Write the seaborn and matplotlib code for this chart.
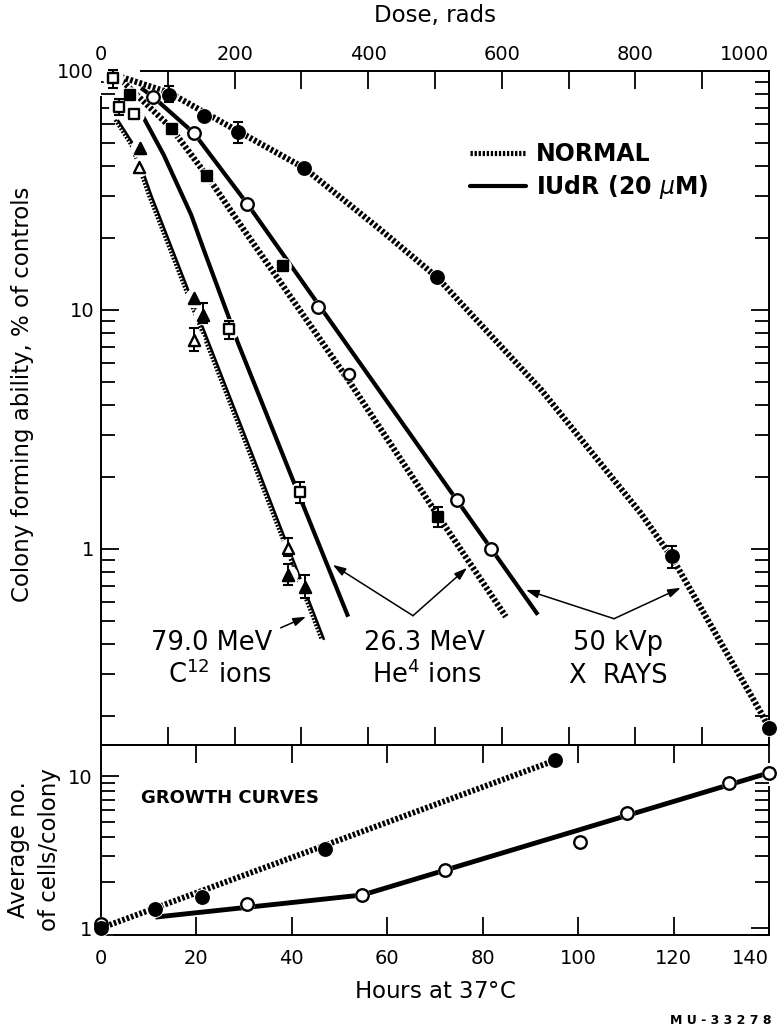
import numpy as np
import matplotlib
matplotlib.use("Agg")
import matplotlib.pyplot as plt
from matplotlib.lines import Line2D
from matplotlib.ticker import LogLocator, NullFormatter
import seaborn as sns

sns.set_style("ticks")
plt.rcParams["font.family"] = ["DejaVu Sans"]
plt.rcParams["mathtext.fontset"] = "dejavusans"
plt.rcParams.update({"text.color": "black", "axes.labelcolor": "black",
                     "xtick.color": "black", "ytick.color": "black",
                     "axes.edgecolor": "black"})

# ---------------- survival (dose in rads, % of controls) ----------------
# 50 kVp X rays
xray_normal_dose = [102, 154, 205, 304, 503, 855, 1000]
xray_normal_surv = [79.4, 64.8, 55.6, 39.3, 13.7, 0.93, 0.178]
xray_normal_fit_dose = [30, 102, 205, 304, 419, 503, 659, 808, 855, 988, 1000]
xray_normal_fit_surv = [94.4, 81.2, 56.0, 39.3, 21.6, 13.7, 4.63, 1.41, 0.917, 0.206, 0.178]

xray_iudr_dose = [78, 139, 219, 325, 533, 584]
xray_iudr_surv = [77.9, 55.0, 27.8, 10.3, 1.60, 1.0]
xray_iudr_fit_dose = [60, 78, 139, 219, 654]
xray_iudr_fit_surv = [84.9, 77.9, 55.0, 27.8, 0.53]

# 26.3 MeV He4 ions
he_normal_dose = [44, 106, 159, 272, 505]
he_normal_surv = [79.4, 57.2, 36.4, 15.3, 1.36]
he_normal_open_dose = [371]
he_normal_open_surv = [5.4]
he_normal_fit_dose = [27, 105, 160, 214, 265, 370, 497, 606]
he_normal_fit_surv = [93.5, 57.8, 36.0, 21.6, 13.5, 5.10, 1.48, 0.52]

he_iudr_dose = [18, 27, 50, 192, 298]
he_iudr_surv = [93.5, 70.7, 66.0, 8.3, 1.73]
he_iudr_fit_dose = [60, 94, 135, 154, 190, 205, 289, 370]
he_iudr_fit_surv = [66.7, 44.5, 25.0, 17.8, 9.53, 7.28, 1.89, 0.52]

# 79.0 MeV C12 ions
c12_normal_dose = [58, 139, 152, 280, 305]
c12_normal_surv = [47.6, 11.2, 9.5, 0.78, 0.69]
c12_iudr_dose = [57, 139, 280]
c12_iudr_surv = [39.7, 7.5, 1.01]
c12_normal_fit_dose = [21, 45, 71, 221, 330]
c12_normal_fit_surv = [62.4, 49.0, 30.3, 2.55, 0.416]
c12_iudr_fit_dose = [25, 49, 75, 225, 334]
c12_iudr_fit_surv = [62.4, 49.0, 30.3, 2.55, 0.416]

# error bars (dose, mean, low, high)
err_dose = [18, 27, 102, 205, 855, 505, 192, 298, 152, 139, 280, 280, 305]
err_mid = [93.5, 70.7, 79.4, 55.6, 0.93, 1.36, 8.3, 1.73, 9.5, 7.5, 1.01, 0.78, 0.69]
err_low = [84.9, 65.5, 74.2, 50.0, 0.833, 1.24, 7.56, 1.56, 8.8, 6.7, 0.93, 0.707, 0.62]
err_high = [101, 76.4, 86.5, 61.2, 1.03, 1.50, 9.0, 1.91, 10.7, 8.4, 1.11, 0.86, 0.78]

# ---------------- growth curves (hours at 37 C, cells per colony) ----------------
growth_normal_hours = [0, 11.4, 21.1, 47, 95.2]
growth_normal_cells = [1.0, 1.33, 1.60, 3.31, 12.7]
growth_normal_fit_hours = [0, 95.2]
growth_normal_fit_cells = [1.0, 12.7]

growth_iudr_hours = [0, 30.7, 54.8, 72.0, 100.4, 110.3, 131.6, 140]
growth_iudr_cells = [1.06, 1.44, 1.65, 2.41, 3.68, 5.71, 9.0, 10.5]
growth_iudr_fit_hours = [11.4, 54.8, 140]
growth_iudr_fit_cells = [1.18, 1.65, 10.5]

dose_ticks = list(range(0, 1001, 200))
hour_ticks = list(range(0, 141, 20))

# ---------------- styles ----------------
DOT = (0, (0.45, 0.33))
FINE_DOT = (0, (0.55, 0.45))
NORMAL_LW = 4.4
IUDR_LW = 3.0
TICK_FS = 14
LABEL_FS = 16.5
NOTE_FS = 18.5


def curve(axis, x, y, ls, lw, z=2):
    sns.lineplot(x=x, y=y, ax=axis, color="black", lw=lw, linestyle=ls,
                 sort=False, estimator=None, zorder=z,
                 solid_capstyle="butt", dash_capstyle="butt")


def points(axis, x, y, marker, size, filled, halo=4.0):
    sns.scatterplot(x=x, y=y, ax=axis, marker="o", s=(size + halo) ** 2,
                    color="white", edgecolor="white", linewidth=0,
                    zorder=4, clip_on=False, legend=False)
    sns.scatterplot(x=x, y=y, ax=axis, marker=marker, s=size ** 2,
                    color="black" if filled else "white", edgecolor="black",
                    linewidth=1.7, zorder=5, clip_on=False, legend=False)


fig = plt.figure(figsize=(7.83, 10.30), dpi=100)
W, H = 783.0, 1030.0
left, right = 101 / W, 769 / W
ax = fig.add_axes([left, 1 - 745 / H, right - left, (745 - 71) / H])
axg = fig.add_axes([left, 1 - 935 / H, right - left, (935 - 745) / H])

# ---------------- survival panel ----------------
ax.set_yscale("log")
ax.set_xlim(0, 1000)
ax.set_ylim(0.151, 100)

curve(ax, xray_normal_fit_dose, xray_normal_fit_surv, DOT, NORMAL_LW)
curve(ax, xray_iudr_fit_dose, xray_iudr_fit_surv, "-", IUDR_LW)
curve(ax, he_normal_fit_dose, he_normal_fit_surv, DOT, NORMAL_LW)
curve(ax, he_iudr_fit_dose, he_iudr_fit_surv, "-", IUDR_LW)
curve(ax, c12_normal_fit_dose, c12_normal_fit_surv, FINE_DOT, 2.4)
curve(ax, c12_iudr_fit_dose, c12_iudr_fit_surv, "-", 1.8)

points(ax, xray_normal_dose, xray_normal_surv, "o", 9, True, 3)
points(ax, xray_iudr_dose, xray_iudr_surv, "o", 9, False, 2)
points(ax, he_normal_dose, he_normal_surv, "s", 7, True, 5)
points(ax, he_normal_open_dose, he_normal_open_surv, "o", 8, False, 2)
points(ax, he_iudr_dose, he_iudr_surv, "s", 7, False, 8)
points(ax, c12_normal_dose, c12_normal_surv, "^", 8, True, 6)
points(ax, c12_iudr_dose, c12_iudr_surv, "^", 8, False, 6)

mid = np.array(err_mid)
ax.errorbar(err_dose, err_mid, yerr=[mid - np.array(err_low), np.array(err_high) - mid],
            fmt="none", ecolor="black", elinewidth=1.4, capsize=3.6, capthick=1.5,
            zorder=4.5, clip_on=False)

# labels for the three radiations
note = dict(fontsize=NOTE_FS, ha="center", va="baseline")
ax.text(166, 0.378, "79.0 MeV", **note)
ax.text(178, 0.275, "C$^{12}$ ions", **note)
ax.text(485, 0.378, "26.3 MeV", **note)
ax.text(487, 0.275, "He$^{4}$ ions", **note)
ax.text(774, 0.378, "50 kVp", **note)
ax.text(774, 0.275, "X  RAYS", **note)

arrow = dict(arrowstyle="-|>,head_length=0.55,head_width=0.18", color="black",
             lw=1.1, shrinkA=0, shrinkB=0, mutation_scale=14)
ax.annotate("", xy=(307, 0.52), xytext=(269, 0.467), arrowprops=arrow)
ax.annotate("", xy=(347, 0.857), xytext=(467, 0.525), arrowprops=arrow)
ax.annotate("", xy=(548, 0.833), xytext=(467, 0.525), arrowprops=arrow)
ax.annotate("", xy=(636, 0.673), xytext=(768, 0.51), arrowprops=arrow)
ax.annotate("", xy=(868, 0.687), xytext=(768, 0.51), arrowprops=arrow)

handles = [Line2D([], [], color="black", lw=NORMAL_LW * 0.85, linestyle=DOT,
                  dash_capstyle="butt"),
           Line2D([], [], color="black", lw=IUDR_LW)]
ax.legend(handles, ["NORMAL", "IUdR (20 $\\mu$M)"], loc="upper left",
          bbox_to_anchor=(0.552, 0.895), frameon=False,
          prop={"weight": "bold", "size": 17}, handlelength=2.4,
          handletextpad=0.4, labelspacing=0.3, borderpad=0, borderaxespad=0)

ax.set_xticks(dose_ticks)
ax.set_xticklabels([str(d) for d in dose_ticks])
ax.set_xticks(range(100, 1000, 200), minor=True)
ax.set_yticks([1, 10, 100])
ax.set_yticklabels(["1", "10", "100"])
ax.yaxis.set_minor_locator(LogLocator(base=10, subs=np.arange(2, 10)))
ax.yaxis.set_minor_formatter(NullFormatter())
ax.tick_params(axis="x", which="both", direction="in", top=True, bottom=True,
               labeltop=True, labelbottom=False, length=13, width=1.3,
               labelsize=TICK_FS, pad=5)
ax.tick_params(axis="y", which="both", direction="in", left=True, right=True,
               labelleft=True, labelright=False, width=1.3, labelsize=TICK_FS, pad=5)
ax.tick_params(axis="y", which="major", length=13)
ax.tick_params(axis="y", which="minor", length=10)
ax.xaxis.set_label_position("top")
ax.set_xlabel("Dose, rads", fontsize=LABEL_FS)
ax.xaxis.set_label_coords(0.5, (745 - 22) / 674)
ax.set_ylabel("Colony forming ability, % of controls", fontsize=LABEL_FS)
ax.yaxis.set_label_coords(-0.100, 0.52)

ax.spines["top"].set_bounds(60, 1000)
ax.spines["left"].set_bounds(0.151, 78)
for s in ax.spines.values():
    s.set_linewidth(1.4)
first = ax.xaxis.get_major_ticks()[0]
first.tick1line.set_visible(False)
first.tick2line.set_visible(False)
ax.yaxis.get_major_ticks()[2].tick1line.set_visible(False)
ax.get_xticklabels()[-1].set_horizontalalignment("right")
ax.get_xticklabels()[-1].set_x(1003)

# ---------------- growth panel ----------------
axg.set_yscale("log")
axg.set_xlim(0, 140)
axg.set_ylim(0.9, 16.0)

curve(axg, growth_normal_fit_hours, growth_normal_fit_cells, DOT, 4.2)
curve(axg, growth_iudr_fit_hours, growth_iudr_fit_cells, "-", 3.5)
points(axg, growth_iudr_hours, growth_iudr_cells, "o", 9, False, 2)
points(axg, growth_normal_hours, growth_normal_cells, "o", 9, True, 3)

axg.text(8.4, 7.17, "GROWTH CURVES", fontsize=13, fontweight="bold",
         ha="left", va="center")

axg.set_xticks(hour_ticks)
axg.set_xticklabels([str(h) for h in hour_ticks])
axg.set_yticks([1, 10])
axg.set_yticklabels(["1", "10"])
axg.yaxis.set_minor_locator(LogLocator(base=10, subs=np.arange(2, 10)))
axg.yaxis.set_minor_formatter(NullFormatter())
axg.tick_params(axis="x", which="both", direction="in", top=True, bottom=True,
                labeltop=False, labelbottom=True, length=13, width=1.3,
                labelsize=TICK_FS, pad=10)
axg.tick_params(axis="y", which="both", direction="in", left=True, right=True,
                labelleft=True, labelright=False, width=1.3, labelsize=TICK_FS, pad=6)
axg.tick_params(axis="y", which="major", length=13)
axg.tick_params(axis="y", which="minor", length=10)
axg.set_xlabel("Hours at 37$\\degree$C", fontsize=LABEL_FS)
axg.xaxis.set_label_coords(0.5, (935 - 980) / 190)
axg.set_ylabel("Average no.\nof cells/colony", fontsize=LABEL_FS, linespacing=1.45)
axg.yaxis.set_label_coords(-0.060, 0.45)

axg.spines["bottom"].set_bounds(3, 140)
axg.spines["left"].set_bounds(1.13, 16.0)
axg.spines["right"].set_bounds(0.9, 8.5)
for s in axg.spines.values():
    s.set_linewidth(1.4)
g0 = axg.xaxis.get_major_ticks()[0]
g0.tick1line.set_visible(False)
g0.tick2line.set_visible(False)
axg.yaxis.get_major_ticks()[0].tick1line.set_visible(False)
axg.yaxis.get_major_ticks()[1].tick2line.set_visible(False)
axg.get_xticklabels()[-1].set_horizontalalignment("right")
axg.get_xticklabels()[-1].set_x(140.6)

fig.text(772 / W, 1 - 1020 / H, "M U - 3 3 2 7 8", fontsize=9, fontweight="bold",
         ha="right", va="center")

fig.savefig("out.png", dpi=100)
